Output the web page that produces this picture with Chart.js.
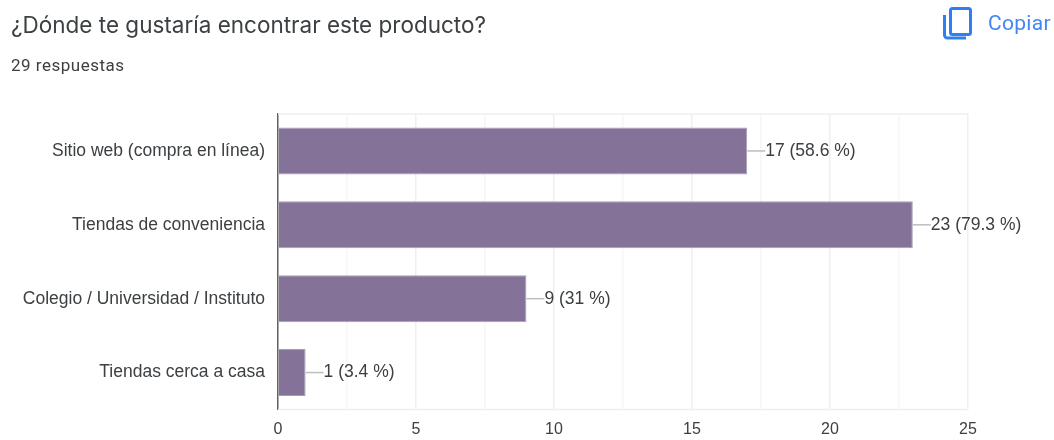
<!DOCTYPE html>
<html lang="es">
<head>
<meta charset="utf-8">
<title>¿Dónde te gustaría encontrar este producto?</title>
<script src="https://cdn.jsdelivr.net/npm/chart.js@4/dist/chart.umd.min.js"></script>
<style>
    html, body { margin: 0; padding: 0; background: #fff; }
    #wrap { position: relative; width: 1054px; height: 440px; overflow: hidden; }
    #chart { position: absolute; left: 0; top: 0; }
    #titulo { position: absolute; left: 11px; top: 11px; font: 400 22.5px Inter, Roboto, sans-serif; color: #3c4043; letter-spacing: 0; white-space: nowrap; }
    #respuestas { position: absolute; left: 11px; top: 55px; font: 400 17px Roboto, sans-serif; color: #3c4043; letter-spacing: 0.5px; white-space: nowrap; }
    #copiar { position: absolute; left: 988px; top: 11px; font: 400 21px Roboto, sans-serif; color: #4285f4; letter-spacing: 0.3px; white-space: nowrap; }
    #icono { position: absolute; left: 941px; top: 6px; }
</style>
</head>
<body>
<div id="wrap">
    <canvas id="chart" width="1054" height="440"></canvas>
    <div id="titulo">¿Dónde te gustaría encontrar este producto?</div>
    <div id="respuestas">29 respuestas</div>
    <svg id="icono" width="32" height="34" viewBox="0 0 32 34" fill="none" stroke="#2f80ed" stroke-width="3">
        <rect x="9.5" y="2.5" width="20" height="26" rx="2"></rect>
        <path d="M3.5 9 V29 a3 3 0 0 0 3 3 H25"></path>
    </svg>
    <div id="copiar">Copiar</div>
</div>
<script>
const categorias = ['Sitio web (compra en línea)', 'Tiendas de conveniencia', 'Colegio / Universidad / Instituto', 'Tiendas cerca a casa'];
const respuestas = [17, 23, 9, 1];
const porcentajes = ['58.6', '79.3', '31', '3.4'];

// Marco claro arriba y abajo del area del grafico
const marcoArea = {
    id: 'marcoArea',
    beforeDatasetsDraw(chart) {
        const { ctx, chartArea } = chart;
        ctx.save();
        ctx.strokeStyle = '#efefef';
        ctx.lineWidth = 1.5;
        ctx.beginPath();
        ctx.moveTo(chartArea.left, chartArea.top);
        ctx.lineTo(chartArea.right, chartArea.top);
        ctx.moveTo(chartArea.left, chartArea.bottom);
        ctx.lineTo(chartArea.right, chartArea.bottom);
        ctx.stroke();
        ctx.restore();
    }
};

// Etiqueta de cada barra con su linea guia
const etiquetasBarras = {
    id: 'etiquetasBarras',
    afterDatasetsDraw(chart) {
        const ctx = chart.ctx;
        const barras = chart.getDatasetMeta(0).data;
        ctx.save();
        ctx.font = '17.5px "Liberation Sans"';
        ctx.textAlign = 'left';
        ctx.textBaseline = 'middle';
        barras.forEach((barra, i) => {
            ctx.strokeStyle = '#bdbdbd';
            ctx.lineWidth = 1.5;
            ctx.beginPath();
            ctx.moveTo(barra.x, barra.y);
            ctx.lineTo(barra.x + 18, barra.y);
            ctx.stroke();
            ctx.fillStyle = '#3c4043';
            ctx.fillText(respuestas[i] + ' (' + porcentajes[i] + ' %)', barra.x + 18, barra.y);
        });
        ctx.restore();
    }
};

new Chart(document.getElementById('chart'), {
    type: 'bar',
    data: {
        labels: categorias,
        datasets: [{
            data: respuestas,
            backgroundColor: '#857299',
            borderColor: '#a99bb8',
            borderWidth: 1,
            categoryPercentage: 0.635,
            barPercentage: 1
        }]
    },
    options: {
        indexAxis: 'y',
        responsive: false,
        animation: false,
        layout: {
            padding: { left: 0, right: 86, top: 114, bottom: 0 }
        },
        plugins: {
            legend: { display: false },
            tooltip: { enabled: false }
        },
        scales: {
            x: {
                min: 0,
                max: 25,
                afterBuildTicks(axis) {
                    axis.ticks = [];
                    for (let v = 0; v <= 25; v += 2.5) axis.ticks.push({ value: v });
                },
                afterFit(axis) {
                    axis.height = 30.5;
                },
                grid: {
                    color: c => (c.tick.value % 5 === 0 ? '#efefef' : '#f6f6f6'),
                    lineWidth: 1.5,
                    drawTicks: false
                },
                border: { display: false },
                ticks: {
                    autoSkip: false,
                    maxRotation: 0,
                    padding: 10,
                    color: '#3c4043',
                    font: { family: '"Liberation Sans"', size: 16 },
                    callback: v => (v % 5 === 0 ? String(v) : '')
                }
            },
            y: {
                afterFit(axis) {
                    axis.width = 278;
                },
                grid: { display: false, drawTicks: false },
                border: { display: true, color: '#5f6368', width: 1.5 },
                ticks: {
                    padding: 13,
                    color: '#3c4043',
                    font: { family: '"Liberation Sans"', size: 17.5 }
                }
            }
        }
    },
    plugins: [marcoArea, etiquetasBarras]
});
</script>
</body>
</html>
